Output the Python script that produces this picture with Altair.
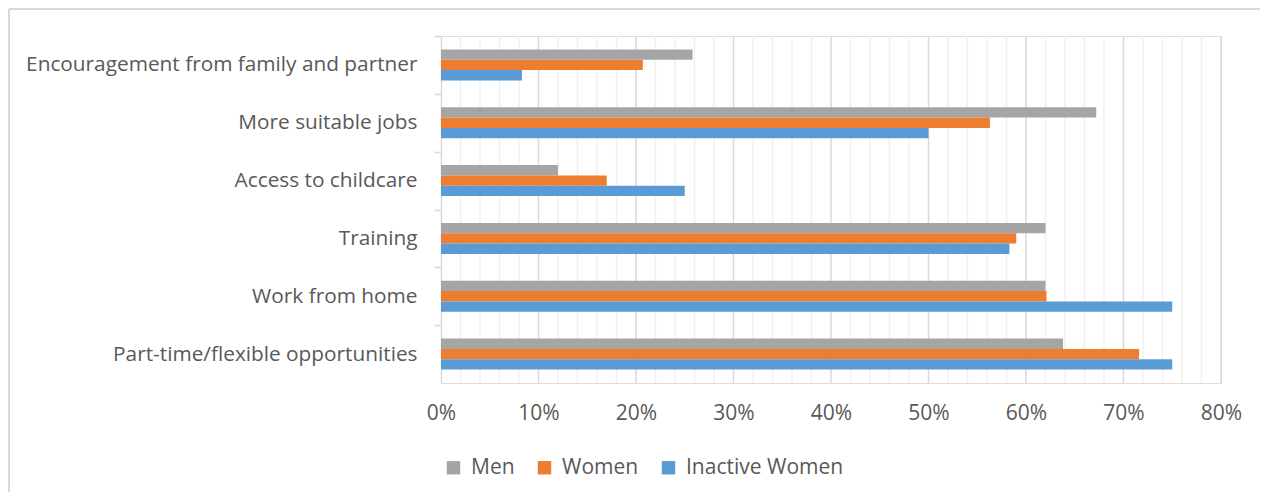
import altair as alt
import pandas as pd

categories = [
    "Encouragement from family and partner",
    "More suitable jobs",
    "Access to childcare",
    "Training",
    "Work from home",
    "Part-time/flexible opportunities",
]
series = ["Men", "Women", "Inactive Women"]
men = [0.258, 0.672, 0.120, 0.620, 0.620, 0.638]
women = [0.207, 0.563, 0.170, 0.590, 0.621, 0.716]
inactive = [0.083, 0.500, 0.250, 0.583, 0.750, 0.750]
colors = ["#A5A5A5", "#ED7D31", "#5B9BD5"]

rows = []
for i, c in enumerate(categories):
    for s, vals in zip(series, [men, women, inactive]):
        rows.append({"category": c, "series": s, "value": vals[i]})
df = pd.DataFrame(rows)

FONT = "Open Sans"
W, H = 780, 347
STEP = H / 6
PADL, PADT = 433, 28

bars = alt.Chart(df).mark_bar().encode(
    x=alt.X("value:Q",
            scale=alt.Scale(domain=[0, 0.8], nice=False, zero=True),
            axis=alt.Axis(format=".0%", values=[i / 10 for i in range(9)],
                          grid=False, ticks=False, domain=False, labelFlush=False,
                          labelFontSize=21, labelColor="#595959",
                          labelFont=FONT, labelPadding=19, title=None)),
    y=alt.Y("category:N", sort=categories,
            scale=alt.Scale(paddingInner=0.464, paddingOuter=0.232),
            axis=alt.Axis(title=None, tickOffset=-STEP / 2, labelOffset=STEP / 2,
                          tickSize=7, tickColor="#D9D9D9", tickWidth=1.5,
                          domainColor="#D9D9D9", domainWidth=1.5,
                          labelFontSize=20.8, labelColor="#595959", labelFont=FONT,
                          labelPadding=17, labelLimit=500)),
    yOffset=alt.YOffset("series:N", sort=series),
    color=alt.Color("series:N", sort=series,
                    scale=alt.Scale(domain=series, range=colors),
                    legend=alt.Legend(title=None, orient="none", direction="horizontal",
                                      legendX=2, legendY=421,
                                      symbolType="square", symbolSize=180,
                                      symbolStrokeWidth=0, labelOffset=7,
                                      labelFontSize=21, labelColor="#595959",
                                      labelFont=FONT, columnPadding=19)),
)

# minor gridlines every 2%, major every 10%
minor_df = pd.DataFrame({"g": [i / 50 for i in range(1, 41) if i % 5 != 0]})
major_df = pd.DataFrame({"g": [i / 10 for i in range(1, 9)]})
minor = alt.Chart(minor_df).mark_rule(color="#F0F0F0", strokeWidth=1.5).encode(x="g:Q")
major = alt.Chart(major_df).mark_rule(color="#D9D9D9", strokeWidth=1.5).encode(x="g:Q")

frame_top = alt.Chart().mark_rule(color="#D9D9D9", strokeWidth=2).encode(
    x=alt.value(1 - PADL), x2=alt.value(900), y=alt.value(1 - PADT))
frame_left = alt.Chart().mark_rule(color="#D9D9D9", strokeWidth=2).encode(
    x=alt.value(1 - PADL), y=alt.value(1 - PADT), y2=alt.value(600))

chart = alt.layer(minor, major, bars, frame_top, frame_left).properties(
    width=W, height=H,
    autosize=alt.AutoSizeParams(type="none"),
    padding={"left": PADL, "top": PADT, "right": 39, "bottom": 109},
).configure_view(strokeWidth=0).configure(font=FONT)

chart.save("out.html", embed_options={"renderer": "svg", "actions": False})
